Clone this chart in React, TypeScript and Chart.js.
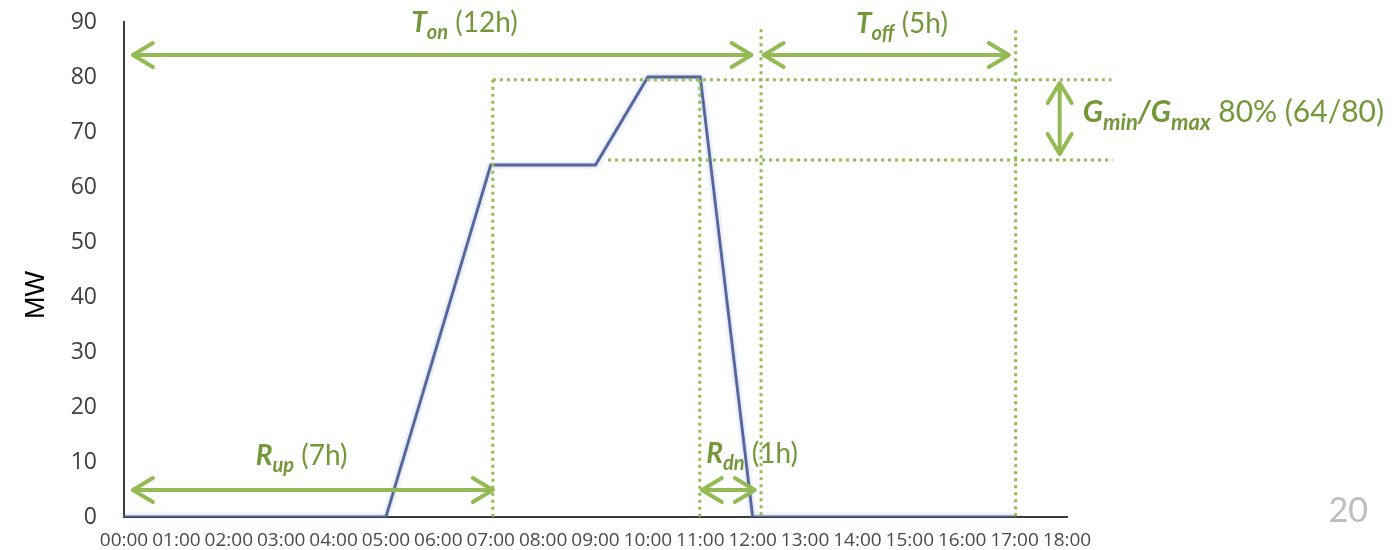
import React, { useEffect, useRef } from "react";
import { Chart, registerables } from "chart.js";

Chart.register(...registerables);

// Hourly time slots along the horizontal axis
const hours = [
  "00:00", "01:00", "02:00", "03:00", "04:00", "05:00", "06:00", "07:00", "08:00", "09:00",
  "10:00", "11:00", "12:00", "13:00", "14:00", "15:00", "16:00", "17:00", "18:00",
];

// Unit output in MW for each hour
const outputMW = [0, 0, 0, 0, 0, 0, 32, 64, 64, 64, 80, 80, 0, 0, 0, 0, 0, 0, null];

// Vertical axis range and step
const yMin = 0;
const yMax = 90;
const yStep = 10;

const ARROW_GREEN = "#94ba56";
const TEXT_GREEN = "#74973a";
const FONT = "Lato, 'Open Sans', sans-serif";

type Part = { t: string; k: "main" | "sub" | "reg" };

// Annotation layout in axis units (hour index, MW)
const spanArrows = [
  { x1: 0.17, x2: 11.98, y: 84 }, // on-time
  { x1: 12.21, x2: 16.89, y: 84 }, // off-time
  { x1: 0.17, x2: 7.04, y: 4.9 }, // ramp up
  { x1: 11.03, x2: 12.04, y: 4.9 }, // ramp down
];
const minMaxArrow = { x: 17.86, y1: 78.9, y2: 66 };

const guides = [
  { x1: 12.16, y1: 88.7, x2: 12.16, y2: 0 },
  { x1: 17.02, y1: 88.5, x2: 17.02, y2: 0 },
  { x1: 7.04, y1: 79.5, x2: 7.04, y2: 0 },
  { x1: 10.99, y1: 79.5, x2: 10.99, y2: 0 },
  { x1: 7.04, y1: 79.5, x2: 18.85, y2: 79.5 },
  { x1: 9.24, y1: 64.9, x2: 18.87, y2: 64.9 },
];

const captions: { parts: Part[]; x: number; y: number; align: "center" | "left"; size: number }[] = [
  { parts: [{ t: "T", k: "main" }, { t: "on", k: "sub" }, { t: " (12h)", k: "reg" }], x: 6.5, y: 88.2, align: "center", size: 28 },
  { parts: [{ t: "T", k: "main" }, { t: "off", k: "sub" }, { t: " (5h)", k: "reg" }], x: 14.85, y: 88, align: "center", size: 28 },
  { parts: [{ t: "R", k: "main" }, { t: "up", k: "sub" }, { t: " (7h)", k: "reg" }], x: 3.39, y: 9.45, align: "center", size: 28 },
  { parts: [{ t: "R", k: "main" }, { t: "dn", k: "sub" }, { t: " (1h)", k: "reg" }], x: 11.99, y: 9.8, align: "center", size: 28 },
  {
    parts: [
      { t: "G", k: "main" }, { t: "min", k: "sub" }, { t: "/", k: "main" },
      { t: "G", k: "main" }, { t: "max", k: "sub" }, { t: " 80% (64/80)", k: "reg" },
    ],
    x: 18.3, y: 71.8, align: "left", size: 30,
  },
];

function partFont(k: Part["k"], size: number) {
  if (k === "main") return `italic bold ${size}px ${FONT}`;
  if (k === "sub") return `italic bold ${Math.round(size * 0.72)}px ${FONT}`;
  return `${size}px ${FONT}`;
}

function drawRich(ctx: CanvasRenderingContext2D, parts: Part[], x: number, y: number, align: string, size: number) {
  let total = 0;
  const widths = parts.map((p) => {
    ctx.font = partFont(p.k, size);
    const w = ctx.measureText(p.t).width;
    total += w;
    return w;
  });
  let cx = align === "center" ? x - total / 2 : x;
  ctx.fillStyle = TEXT_GREEN;
  ctx.textBaseline = "alphabetic";
  ctx.textAlign = "left";
  parts.forEach((p, i) => {
    ctx.font = partFont(p.k, size);
    ctx.fillText(p.t, cx, p.k === "sub" ? y + size * 0.25 : y);
    cx += widths[i];
  });
}

function arrowHead(ctx: CanvasRenderingContext2D, tx: number, ty: number, ux: number, uy: number) {
  const back = 20;
  const spread = 12;
  const px = -uy;
  const py = ux;
  ctx.beginPath();
  ctx.moveTo(tx - ux * back + px * spread, ty - uy * back + py * spread);
  ctx.lineTo(tx, ty);
  ctx.lineTo(tx - ux * back - px * spread, ty - uy * back - py * spread);
  ctx.stroke();
}

function doubleArrow(ctx: CanvasRenderingContext2D, x1: number, y1: number, x2: number, y2: number) {
  const len = Math.hypot(x2 - x1, y2 - y1);
  const ux = (x2 - x1) / len;
  const uy = (y2 - y1) / len;
  ctx.beginPath();
  ctx.moveTo(x1 + ux * 2, y1 + uy * 2);
  ctx.lineTo(x2 - ux * 2, y2 - uy * 2);
  ctx.stroke();
  arrowHead(ctx, x2, y2, ux, uy);
  arrowHead(ctx, x1, y1, -ux, -uy);
}

const glowPlugin = {
  id: "lineGlow",
  beforeDatasetDraw(chart: any) {
    const ctx = chart.ctx;
    ctx.save();
    ctx.shadowColor = "rgba(110, 140, 210, 0.55)";
    ctx.shadowBlur = 4;
  },
  afterDatasetDraw(chart: any) {
    chart.ctx.restore();
  },
};

const annotationPlugin = {
  id: "schedAnnotations",
  afterDraw(chart: any) {
    const ctx: CanvasRenderingContext2D = chart.ctx;
    const xs = chart.scales.x;
    const ys = chart.scales.y;
    const X = (v: number) => xs.getPixelForValue(v);
    const Y = (v: number) => ys.getPixelForValue(v);

    ctx.save();
    // dotted guides
    ctx.strokeStyle = ARROW_GREEN;
    ctx.lineWidth = 3;
    ctx.setLineDash([3, 4]);
    ctx.lineCap = "butt";
    guides.forEach((g) => {
      ctx.beginPath();
      ctx.moveTo(X(g.x1), Y(g.y1));
      ctx.lineTo(X(g.x2), Y(g.y2));
      ctx.stroke();
    });
    ctx.setLineDash([]);

    // span arrows
    ctx.lineWidth = 4;
    ctx.lineCap = "round";
    ctx.lineJoin = "round";
    spanArrows.forEach((a) => {
      doubleArrow(ctx, X(a.x1), Y(a.y), X(a.x2), Y(a.y));
    });
    doubleArrow(ctx, X(minMaxArrow.x), Y(minMaxArrow.y1), X(minMaxArrow.x), Y(minMaxArrow.y2));

    // captions
    captions.forEach((c) => drawRich(ctx, c.parts, X(c.x), Y(c.y), c.align, c.size));

    // vertical axis title
    ctx.save();
    ctx.translate(37, 295);
    ctx.rotate(-Math.PI / 2);
    ctx.font = "27px 'Liberation Sans', Arial, sans-serif";
    ctx.fillStyle = "#000";
    ctx.textAlign = "center";
    ctx.textBaseline = "middle";
    ctx.fillText("MW", 0, 0);
    ctx.restore();

    // slide number
    ctx.font = `34px ${FONT}`;
    ctx.fillStyle = "#bdbdbd";
    ctx.textAlign = "right";
    ctx.textBaseline = "alphabetic";
    ctx.fillText("20", 1368, 522);
    ctx.restore();
  },
};

export default function App() {
  const canvasRef = useRef<HTMLCanvasElement | null>(null);

  useEffect(() => {
    document.body.style.margin = "0";
    const canvas = canvasRef.current;
    if (!canvas) return;
    const chart = new Chart(canvas, {
      type: "line",
      data: {
        labels: hours,
        datasets: [
          {
            data: outputMW,
            borderColor: "#56669a",
            borderWidth: 2.8,
            pointRadius: 0,
            tension: 0,
            fill: false,
          },
        ],
      },
      options: {
        animation: false,
        responsive: false,
        devicePixelRatio: 1,
        layout: { padding: { left: 0, top: 22, right: 331, bottom: 0 } },
        plugins: { legend: { display: false }, tooltip: { enabled: false } },
        scales: {
          x: {
            offset: false,
            grid: { display: false, drawTicks: false },
            border: { display: true, color: "#3c3c3c", width: 2 },
            ticks: {
              autoSkip: false,
              maxRotation: 0,
              minRotation: 0,
              padding: 12,
              color: "#4a4a4a",
              font: { family: "'Open Sans', sans-serif", size: 19 },
            },
            afterFit(scale: any) {
              scale.height = 33;
              scale.paddingLeft = 0;
              scale.paddingRight = 0;
            },
          },
          y: {
            min: yMin,
            max: yMax,
            grid: { display: false, drawTicks: false },
            border: { display: true, color: "#3c3c3c", width: 2 },
            ticks: {
              stepSize: yStep,
              padding: 27,
              color: "#404040",
              font: { family: "'Open Sans', sans-serif", size: 23 },
            },
            afterFit(scale: any) {
              scale.width = 124;
              scale.paddingTop = 0;
              scale.paddingBottom = 0;
            },
          },
        },
      },
      plugins: [glowPlugin, annotationPlugin],
    });
    return () => chart.destroy();
  }, []);

  return (
    <div style={{ position: "absolute", left: 0, top: 0, width: 1398, height: 550, background: "#fff" }}>
      <canvas ref={canvasRef} width={1398} height={550} />
    </div>
  );
}
